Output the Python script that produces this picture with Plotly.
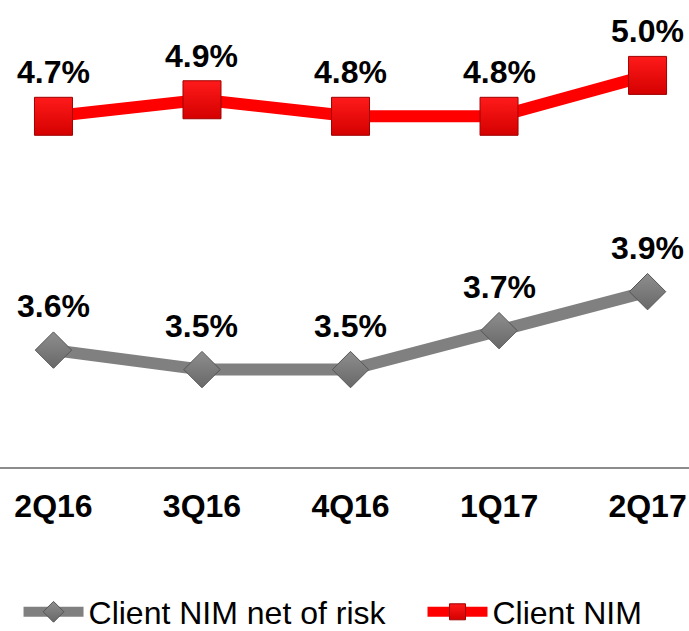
import plotly.graph_objects as go

quarters = ["2Q16", "3Q16", "4Q16", "1Q17", "2Q17"]
nim = [4.80, 4.885, 4.80, 4.80, 5.01]
nim_labels = ["4.7%", "4.9%", "4.8%", "4.8%", "5.0%"]
nim_net = [3.60, 3.50, 3.50, 3.70, 3.90]
nim_net_labels = ["3.6%", "3.5%", "3.5%", "3.7%", "3.9%"]

FONT = "Arial, Liberation Sans, sans-serif"

fig = go.Figure()

fig.add_trace(go.Scatter(
    x=quarters, y=nim_net, mode="lines+markers", name="Client NIM net of risk",
    line=dict(color="#808080", width=12),
    marker=dict(symbol="diamond", size=28, color="#8e8e8e",
                line=dict(color="#555555", width=1),
                gradient=dict(type="vertical", color="#686868")),
    legend="legend",
))
fig.add_trace(go.Scatter(
    x=quarters, y=nim, mode="lines+markers", name="Client NIM",
    line=dict(color="#ff0000", width=12),
    marker=dict(symbol="square", size=38, color="#ff1a1a",
                line=dict(color="#a00000", width=1),
                gradient=dict(type="vertical", color="#d40000")),
    legend="legend2",
))

for q, v, t in list(zip(quarters, nim, nim_labels)) + list(zip(quarters, nim_net, nim_net_labels)):
    fig.add_annotation(x=q, y=v, text=t, showarrow=False, yshift=44,
                       font=dict(family=FONT, size=32, color="black", weight="bold"))

fig.update_xaxes(
    range=[-0.36, 4.279], showline=True, linecolor="#8c8c8c", linewidth=2,
    showgrid=False, zeroline=False, ticks="outside", ticklen=10,
    tickcolor="rgba(0,0,0,0)",
    tickfont=dict(family=FONT, size=32, color="black", weight="bold"),
)
fig.update_yaxes(range=[3.0, 5.397], visible=False, showgrid=False)

legend_style = dict(orientation="h", y=-0.3105, yanchor="middle",
                    font=dict(family=FONT, size=32, color="black"),
                    itemwidth=60, bgcolor="rgba(0,0,0,0)")

fig.update_layout(
    width=689, height=631,
    margin=dict(l=0, r=0, t=0, b=164, autoexpand=False),
    paper_bgcolor="white", plot_bgcolor="white",
    showlegend=True,
    legend=dict(x=0.0269, **legend_style),
    legend2=dict(x=0.6132, **legend_style),
)

# page body has a default 8px margin; drop it so the figure sits at the window origin
fig.write_html("out.html", config={"displayModeBar": False},
               post_script="document.body.style.margin='0px';")
